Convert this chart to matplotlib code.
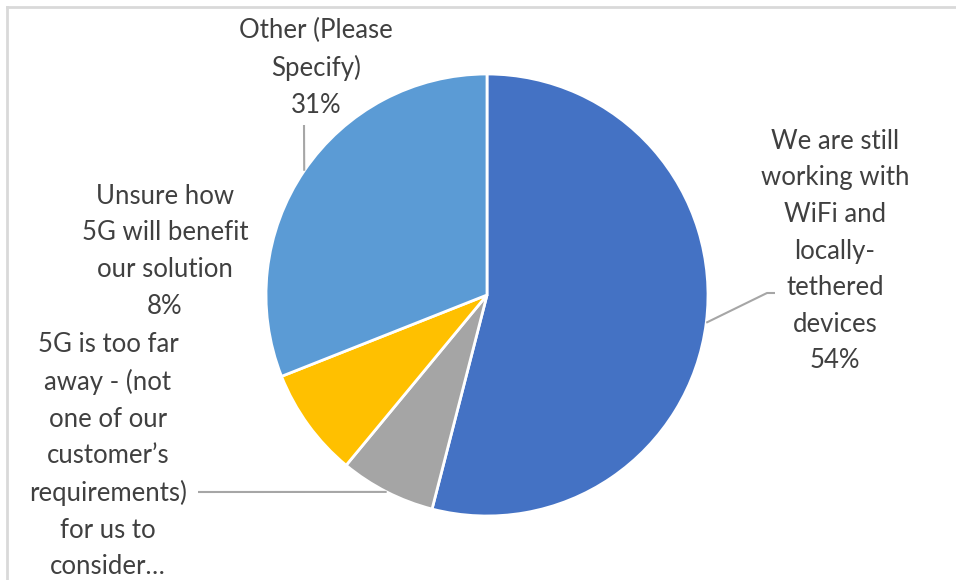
import numpy as np
import matplotlib
matplotlib.use("Agg")
import matplotlib.pyplot as plt
from matplotlib.lines import Line2D

# data
labels = [
    "We are still\nworking with\nWiFi and\nlocally-\ntethered\ndevices",
    "5G is too far\naway - (not\none of our\ncustomer\u2019s\nrequirements)\nfor us to\nconsider\u2026",
    "Unsure how\n5G will benefit\nour solution",
    "Other (Please\nSpecify)",
]
values = [54, 7, 8, 31]
show_pct = [True, False, True, True]
colors = ["#4472C4", "#A5A5A5", "#FFC000", "#5B9BD5"]

W, H = 956, 580
fig = plt.figure(figsize=(W / 100, H / 100), dpi=100)
ax = fig.add_axes([0, 0, 1, 1])

cx, cy, r = 487, H - 295, 221
wedges, _ = ax.pie(values, colors=colors, startangle=90, counterclock=False,
                   center=(cx, cy), radius=r, frame=True,
                   wedgeprops=dict(edgecolor="white", linewidth=2))
ax.set_xlim(0, W)
ax.set_ylim(0, H)
ax.set_aspect("equal")
ax.axis("off")

txt_color = "#404040"
font = dict(family=["Lato", "DejaVu Sans"], fontsize=18.5, color=txt_color,
            ha="center", va="top", linespacing=1.575)

# label anchor (text top centre) and leader line end, in pixel coords
label_pos = [(835, 129), (108, 332), (165, 184), (316, 18)]
leader_end = [(767, 293), (198, 492), None, (304, 125)]
leader_knee = [(775, 293), None, None, None]

total = sum(values)
for i, w in enumerate(wedges):
    text = labels[i]
    if show_pct[i]:
        text += "\n%d%%" % round(100 * values[i] / total)
    x, y = label_pos[i]
    ax.text(x, H - y, text, **font)
    if leader_end[i] is not None:
        ang = np.deg2rad((w.theta1 + w.theta2) / 2)
        px, py = cx + r * np.cos(ang), cy + r * np.sin(ang)
        ex, ey = leader_end[i]
        xs, ys = [px, ex], [py, H - ey]
        if leader_knee[i] is not None:
            xs.append(leader_knee[i][0])
            ys.append(H - leader_knee[i][1])
        ax.plot(xs, ys, color="#A6A6A6", lw=1.5, solid_capstyle="butt")

# chart area border (top and left edge visible)
fig.add_artist(Line2D([7 / W, 1], [1 - 7 / H, 1 - 7 / H], color="#D9D9D9", lw=2))
fig.add_artist(Line2D([7 / W, 7 / W], [0, 1 - 7 / H], color="#D9D9D9", lw=2))

fig.savefig("out.png", dpi=100, facecolor="white")
